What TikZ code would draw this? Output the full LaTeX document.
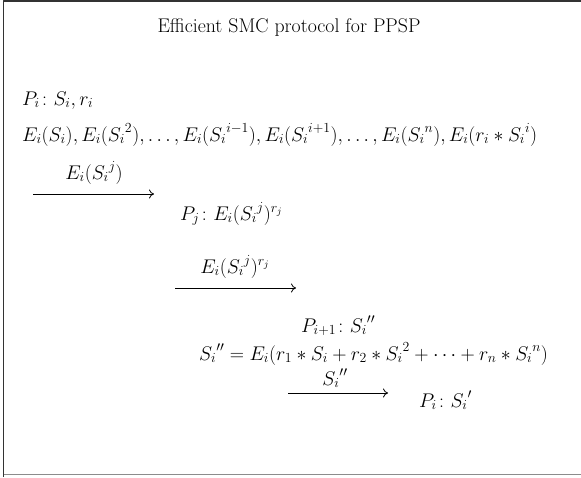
\RequirePackage{fix-cm}
\documentclass[tikz,border=0pt]{standalone}
\usepackage{amsmath,amssymb}
\usepackage{tikz}
\usetikzlibrary{calc,arrows.meta,positioning}

\tikzset{
  txt/.style={inner sep=0pt, anchor=base west, font=\fontsize{19.8}{23}\selectfont},
  lbl/.style={inner sep=0pt, anchor=base, font=\fontsize{19.8}{23}\selectfont},
  msg/.style={-{To[length=5pt,width=9pt]}, line width=0.8pt},
}

\begin{document}
\begin{tikzpicture}[x=1pt, y=-1pt, line join=round]
    \useasboundingbox (0,0) rectangle (581,477);
    % frame
    \draw[line width=1.4pt, black!80] (3.5,477) -- (3.5,1) -- (581,1);
    \draw[line width=1.2pt, black!45] (3.5,474.5) -- (581,474.5);
    \node[lbl] (title) at (289,32) {Efficient SMC protocol for PPSP};
    \node[txt] (pi) at (22,105) {$P_i\colon S_i, r_i$};
    \node[txt] (enc) at (22,141) {$E_i(S_i), E_i({S_i}^2), \ldots, E_i({S_i}^{i-1}), E_i({S_i}^{i+1}), \ldots, E_i({S_i}^n), E_i(r_i * {S_i}^i)$};
    % first message
    \coordinate (a1) at (33,194);
    \coordinate (b1) at (154,194);
    \draw[msg] (a1) -- (b1);
    \node[lbl] (m1) at (94,179) {$E_i({S_i}^j)$};
    \node[txt] (pj) at (180,220) {$P_j\colon E_i({S_i}^j)^{r_j}$};
    % second message
    \coordinate (a2) at (175,288);
    \coordinate (b2) at (296,288);
    \draw[msg] (a2) -- (b2);
    \node[lbl] (m2) at (235,273) {$E_i({S_i}^j)^{r_j}$};
    \node[txt] (pn) at (301,332) {$P_{i+1}\colon {S_i}''$};
    \node[txt] (sum) at (199,360) {${S_i}'' = E_i(r_1 * S_i + r_2 * {S_i}^2 + \cdots + r_n * {S_i}^n)$};
    % third message
    \coordinate (a3) at (288,393);
    \coordinate (b3) at (388,393);
    \draw[msg] (a3) -- (b3);
    \node[lbl] (m3) at (335,385) {${S_i}''$};
    \node[txt] (pf) at (419,407) {$P_i\colon {S_i}'$};
\end{tikzpicture}
\end{document}
